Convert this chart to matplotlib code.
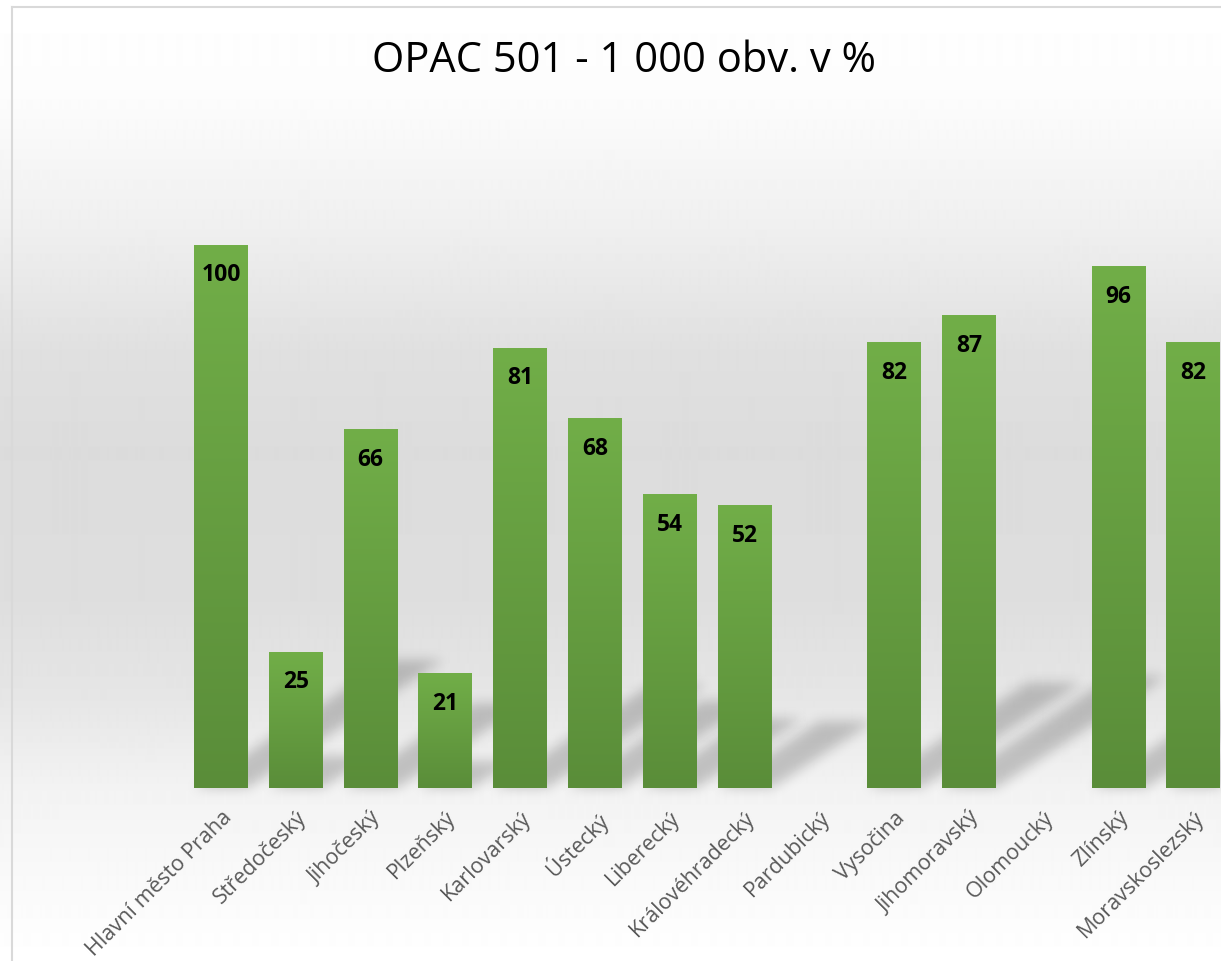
import numpy as np
import matplotlib
matplotlib.use("Agg")
import matplotlib.pyplot as plt
from matplotlib.colors import LinearSegmentedColormap
from matplotlib.patches import Polygon
from matplotlib.lines import Line2D

plt.rcParams['font.family'] = ['Open Sans', 'DejaVu Sans']

regions = ["Hlavní město Praha", "Středočeský", "Jihočeský", "Plzeňský", "Karlovarský",
           "Ústecký", "Liberecký", "Královéhradecký", "Pardubický", "Vysočina",
           "Jihomoravský", "Olomoucký", "Zlínský", "Moravskoslezský"]
values = [100, 25, 66, 21, 81, 68, 54, 52, np.nan, 82, 87, np.nan, 96, 82]
title = "OPAC 501 - 1 000 obv. v %"

W, H = 1221, 961
fig = plt.figure(figsize=(W / 100, H / 100), dpi=100)

# background gradient (white - grey - white)
bg = fig.add_axes([0, 0, 1, 1], zorder=-10)
stops_y = [0, 100, 230, 350, 450, 600, 700, 790, 961]
stops_g = [255, 252, 239, 224, 220, 222, 230, 243, 255]
rows = np.interp(np.arange(H), stops_y, stops_g) / 255.0
bg.imshow(np.repeat(rows[:, None], 2, axis=1), cmap='gray', vmin=0, vmax=1,
          aspect='auto', extent=(0, W, H, 0), interpolation='bilinear')
bg.set_xlim(0, W)
bg.set_ylim(H, 0)
bg.axis('off')

# chart frame
fig.add_artist(Line2D([12 / W, 12 / W], [0, 1 - 7 / H], color='#d9d9d9', lw=1.5))
fig.add_artist(Line2D([12 / W, 1], [1 - 7 / H, 1 - 7 / H], color='#d9d9d9', lw=1.5))

# plot area
step = 74.8
left_px = 221 - step / 2
base_px = 788
unit_px = 5.43
ymax = 120
ax = fig.add_axes([left_px / W, (H - base_px) / H, (W - left_px) / W, ymax * unit_px / H])
ax.patch.set_alpha(0)
x = np.arange(len(regions))
xmax = -0.5 + (W - left_px) / step


def gauss_filter(sigma_px, alpha):
    def f(im, dpi):
        pad = int(3 * sigma_px)
        src = np.pad(im, [(pad, pad), (pad, pad), (0, 0)], "constant")
        k = np.exp(-0.5 * (np.arange(-pad, pad + 1) / sigma_px) ** 2)
        k /= k.sum()
        a = src[:, :, 3]
        a = np.apply_along_axis(lambda r: np.convolve(r, k, mode='same'), 0, a)
        a = np.apply_along_axis(lambda r: np.convolve(r, k, mode='same'), 1, a)
        out = np.zeros_like(src)
        out[:, :, 3] = a * alpha
        return out, -pad, -pad
    return f


width = 0.72
green = LinearSegmentedColormap.from_list('g', ['#5a8d39', '#71ae48'])
grad = np.linspace(0, 1, 256).reshape(-1, 1)

for xi, v in zip(x, values):
    if np.isnan(v):
        continue
    # perspective shadow
    sx = 0.36 * v * unit_px / step
    sy = 0.236 * v
    shadow = Polygon([(xi - width / 2, 0), (xi + width / 2, 0),
                      (xi + width / 2 + sx, sy), (xi - width / 2 + sx, sy)],
                     closed=True, facecolor='black', edgecolor='none', zorder=1)
    shadow.set_agg_filter(gauss_filter(6, 0.2))
    ax.add_patch(shadow)

for xi, v in zip(x, values):
    if np.isnan(v):
        continue
    ax.imshow(grad, cmap=green, origin='lower', aspect='auto', zorder=2,
              extent=(xi - width / 2, xi + width / 2, 0, v), interpolation='bilinear')
    ax.annotate(f"{v:.0f}", (xi, v), xytext=(0, -30), textcoords='offset pixels',
                ha='center', va='center', fontsize=16.5, fontweight='bold',
                color='black', zorder=3)

ax.set_xlim(-0.5, xmax)
ax.set_ylim(0, ymax)
ax.set_xticks(x)
ax.set_xticklabels(regions, rotation=45, ha='right', rotation_mode='anchor',
                   fontsize=15.5, color='#595959')
ax.tick_params(axis='x', length=0, pad=14)
ax.tick_params(axis='y', left=False, labelleft=False)
for s in ax.spines.values():
    s.set_visible(False)

fig.text(624 / W, 1 - 61 / H, title, ha='center', va='center', fontsize=30, color='black')

fig.savefig("out.png", dpi=100)
